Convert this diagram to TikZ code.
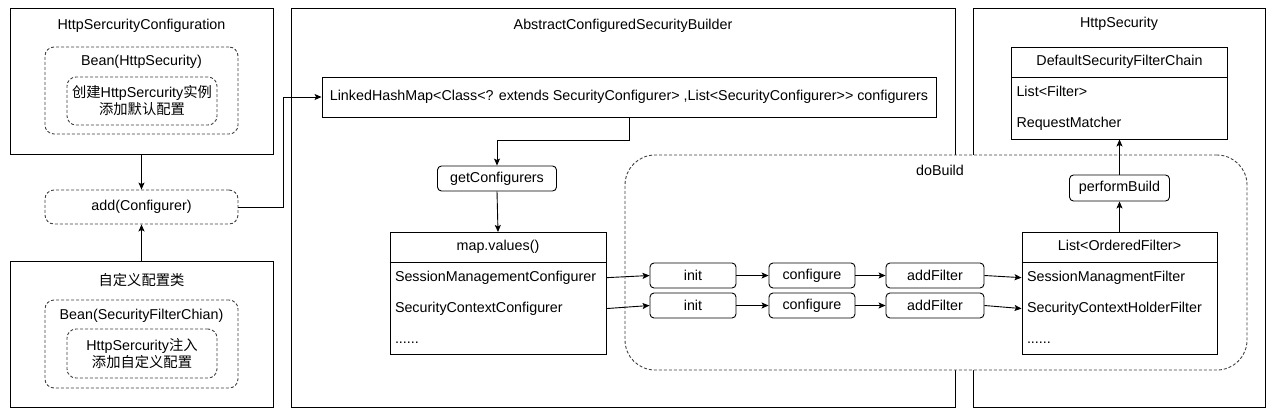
\documentclass[tikz,border=0pt]{standalone}
\usepackage{fontspec}
\setmainfont{Liberation Sans}[Ligatures=TeXOff]
\newfontfamily\cjk{Noto Sans CJK SC}
\usetikzlibrary{shapes,arrows.meta,positioning}
\newcommand{\headstrut}{\rule[-3.5pt]{0pt}{13pt}}
\newcommand{\rowstrut}{\rule[-3.5pt]{0pt}{15pt}}
\newcommand{\listbox}[4]{node[listbox, rectangle split parts=#1, minimum width=#2](#3) {#4}}

\begin{document}
\begin{tikzpicture}[
      x=1pt,y=-1pt,
      font=\fontsize{14.3}{17}\selectfont,
      pointer/.style={line width=0.9pt, -{Stealth[length=7pt,width=6pt,inset=1.5pt]}},
      outer/.style={rectangle,draw=black,line width=1pt},
      dbox/.style={rectangle,draw=black!75,line width=0.9pt,dash pattern=on 3pt off 2pt,rounded corners=9pt},
      step box/.style={rectangle,draw=black,line width=0.9pt,rounded corners=4pt,minimum height=25pt},
      listbox/.style={rectangle split, rectangle split draw splits=false,
        rectangle split part align={center,left,left,left},
        draw=black,line width=0.9pt,inner xsep=5pt,inner ysep=7.5pt,anchor=north}
      ]
      \useasboundingbox (0,0) rectangle (1273,418);
      % three outer frames
      \node[outer, minimum width=263pt, minimum height=146pt] (cfg) at (141.5,81) {};
      \node[outer, minimum width=263pt, minimum height=146pt] (usr) at (141.5,334) {};
      \node[outer, minimum width=664pt, minimum height=399pt] (builder) at (623,207.5) {};
      \node[outer, minimum width=292pt, minimum height=399pt] (http) at (1119,207.5) {};
      \node (cfgtitle) at (141.5,26) {HttpSercurityConfiguration};
      \node (usrtitle) at (141.5,280) {\cjk 自定义配置类};
      \node (buildertitle) at (623,26) {AbstractConfiguredSecurityBuilder};
      \node (httptitle) at (1119,24) {HttpSecurity};

      % left column
      \node[dbox, minimum width=193pt, minimum height=87pt] (bean1) at (141.5,90.5) {};
      \node (bean1title) at (141.5,62) {Bean(HttpSecurity)};
      \node[dbox, align=center, minimum width=150pt, minimum height=48pt] (bean1body) at (142,101)
        {{\cjk 创建}HttpSercurity{\cjk 实例}\\{\cjk 添加默认配置}};
      \node[dbox, minimum width=193pt, minimum height=34pt] (add) at (141.5,207) {add(Configurer)};
      \node[dbox, minimum width=193pt, minimum height=88pt] (bean2) at (141.5,344) {};
      \node (bean2title) at (141.5,316) {Bean(SecurityFilterChian)};
      \node[dbox, align=center, minimum width=150pt, minimum height=49pt] (bean2body) at (142,353.5)
        {HttpSercurity{\cjk 注入}\\{\cjk 添加自定义配置}};

      % doBuild area
      \node[dbox, fill=white, rounded corners=30pt, minimum width=622pt, minimum height=215pt] (dobuild) at (936,262.5) {};
      \node (dobuildtitle) at (940,170) {doBuild};

      % builder
      \node[outer, line width=0.9pt, minimum width=614pt, minimum height=40pt] (linked) at (629,97)
        {LinkedHashMap<Class<? extends SecurityConfigurer> ,List<SecurityConfigurer>> configurers};
      \node[step box, minimum width=119pt] (getc) at (497,178.5) {getConfigurers};
      \path (498,232) \listbox{4}{216pt}{map}{\headstrut map.values()
        \nodepart{two}\rowstrut SessionManagementConfigurer
        \nodepart{three}\rowstrut SecurityContextConfigurer
        \nodepart{four}\rowstrut ......};
      \draw[line width=0.9pt] (map.one split west) -- (map.one split east);

      \node[step box, minimum width=86pt] (inita) at (693,275.5) {init};
      \node[step box, minimum width=86pt] (initb) at (693,305.5) {init};
      \node[step box, minimum width=86pt] (confa) at (812,275.5) {configure};
      \node[step box, minimum width=86pt] (confb) at (812,305.5) {configure};
      \node[step box, minimum width=98pt] (adda) at (935,275.5) {addFilter};
      \node[step box, minimum width=98pt] (addb) at (935,305.5) {addFilter};

      \path (1119.5,232) \listbox{4}{195pt}{ordered}{\headstrut List<OrderedFilter>
        \nodepart{two}\rowstrut SessionManagmentFilter
        \nodepart{three}\rowstrut SecurityContextHolderFilter
        \nodepart{four}\rowstrut ......};
      \draw[line width=0.9pt] (ordered.one split west) -- (ordered.one split east);

      \node[step box, minimum width=100pt, minimum height=26pt] (perform) at (1119.5,188) {performBuild};
      \path (1119.5,47) \listbox{3}{216pt}{chain}{\headstrut DefaultSecurityFilterChain
        \nodepart{two}\rowstrut List<Filter>
        \nodepart{three}\rowstrut RequestMatcher};
      \draw[line width=0.9pt] (chain.one split west) -- (chain.one split east);

      % connectors
      \draw[pointer] (cfg.south) -- (add.north);
      \draw[pointer] (usr.north) -- (add.south);
      \draw[pointer] (add.east) -- ++(45,0) |- (linked.west);
      \draw[pointer] (linked.south) -- ++(0,23) -| (getc.north);
      \draw[pointer] (getc.south) -- (map.north);
      \path (map.two east) edge [pointer] (inita.west);
      \path (map.three east) edge [pointer] (initb.west);
      \draw[pointer] (inita) -- (confa);
      \draw[pointer] (initb) -- (confb);
      \draw[pointer] (confa) -- (adda);
      \draw[pointer] (confb) -- (addb);
      \path (adda.east) edge [pointer] (ordered.two west);
      \path (addb.east) edge [pointer] (ordered.three west);
      \draw[pointer] (ordered.north) -- (perform.south);
      \draw[pointer] (perform.north) -- (chain.south);
\end{tikzpicture}
\end{document}
